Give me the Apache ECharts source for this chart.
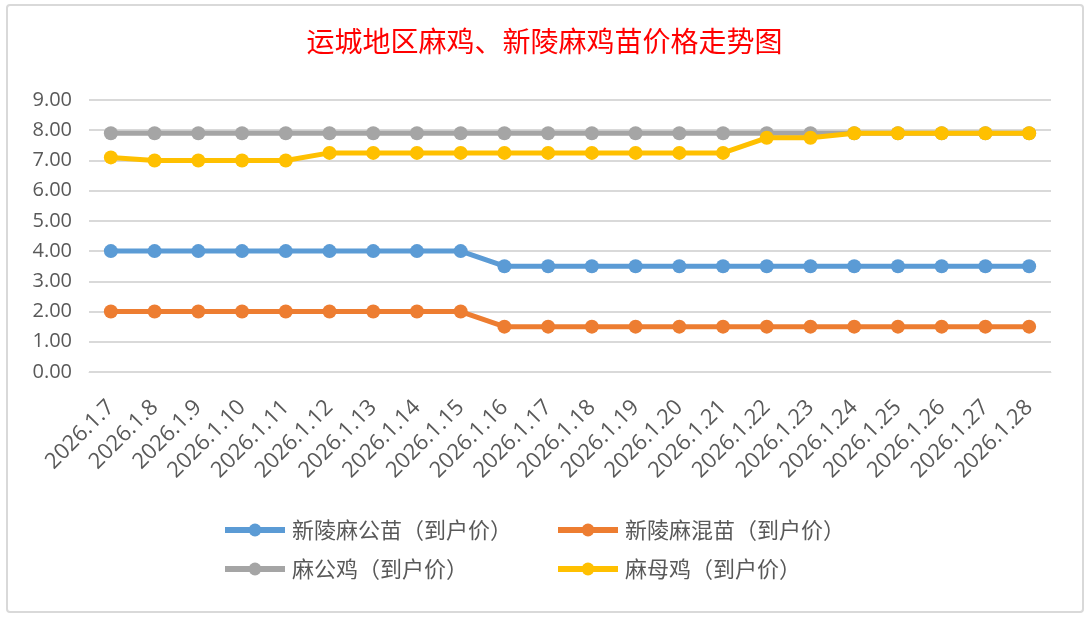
<!DOCTYPE html>
<html>
<head>
<meta charset="utf-8">
<title>运城地区麻鸡、新陵麻鸡苗价格走势图</title>
<script src="https://cdn.jsdelivr.net/npm/echarts@6/dist/echarts.min.js"></script>
<style>
  html, body { margin: 0; padding: 0; background: #fff; }
  #chart { width: 1089px; height: 617px; }
</style>
</head>
<body>
<div id="chart"></div>
<script>
// 日期
const fechas = ['2026.1.7', '2026.1.8', '2026.1.9', '2026.1.10', '2026.1.11', '2026.1.12',
  '2026.1.13', '2026.1.14', '2026.1.15', '2026.1.16', '2026.1.17', '2026.1.18', '2026.1.19',
  '2026.1.20', '2026.1.21', '2026.1.22', '2026.1.23', '2026.1.24', '2026.1.25', '2026.1.26',
  '2026.1.27', '2026.1.28'];

// 价格（元）
const gongMiao = [4.0, 4.0, 4.0, 4.0, 4.0, 4.0, 4.0, 4.0, 4.0, 3.5, 3.5, 3.5, 3.5, 3.5, 3.5, 3.5, 3.5, 3.5, 3.5, 3.5, 3.5, 3.5];
const hunMiao = [2.0, 2.0, 2.0, 2.0, 2.0, 2.0, 2.0, 2.0, 2.0, 1.5, 1.5, 1.5, 1.5, 1.5, 1.5, 1.5, 1.5, 1.5, 1.5, 1.5, 1.5, 1.5];
const gongJi = [7.9, 7.9, 7.9, 7.9, 7.9, 7.9, 7.9, 7.9, 7.9, 7.9, 7.9, 7.9, 7.9, 7.9, 7.9, 7.9, 7.9, 7.9, 7.9, 7.9, 7.9, 7.9];
const muJi = [7.1, 7.0, 7.0, 7.0, 7.0, 7.25, 7.25, 7.25, 7.25, 7.25, 7.25, 7.25, 7.25, 7.25, 7.25, 7.75, 7.75, 7.9, 7.9, 7.9, 7.9, 7.9];

const nombres = ['新陵麻公苗（到户价）', '新陵麻混苗（到户价）', '麻公鸡（到户价）', '麻母鸡（到户价）'];
const colores = ['#5B9BD5', '#ED7D31', '#A5A5A5', '#FFC000'];

const fuente = '"Noto Sans CJK SC", "Noto Sans", sans-serif';
const fuenteNum = '"Open Sans", "Noto Sans", sans-serif';

function serie(i, data) {
    return {
        name: nombres[i],
        type: 'line',
        data: data,
        symbol: 'circle',
        symbolSize: 14,
        lineStyle: { width: 5, color: colores[i] },
        itemStyle: { color: colores[i] },
        z: 2 + i
    };
}

function leyenda(items, left) {
    return {
        data: items,
        orient: 'vertical',
        left: left,
        top: 519,
        padding: 0,
        itemGap: 17,
        itemWidth: 60,
        itemHeight: 16,
        lineStyle: { width: 6 },
        textStyle: { fontSize: 22, color: '#595959', padding: [0, 0, 0, 2] }
    };
}

let myChart = echarts.init(document.getElementById('chart'));
let option = {
    animation: false,
    backgroundColor: '#fff',
    textStyle: { fontFamily: fuente },
    graphic: [
        {
            type: 'rect',
            shape: { x: 7, y: 5, width: 1076, height: 607, r: 3 },
            style: { fill: 'none', stroke: '#D9D9D9', lineWidth: 2 },
            silent: true
        }
    ],
    title: {
        text: '运城地区麻鸡、新陵麻鸡苗价格走势图',
        left: 'center',
        top: 22,
        textStyle: { color: '#FF0000', fontSize: 28, fontWeight: 'normal', fontFamily: fuente }
    },
    legend: [
        leyenda([nombres[0], nombres[2]], 222),
        leyenda([nombres[1], nombres[3]], 555)
    ],
    grid: {
        left: 89,
        right: 38,
        top: 100,
        bottom: 245
    },
    xAxis: {
        type: 'category',
        data: fechas,
        boundaryGap: true,
        axisLine: { show: true, lineStyle: { color: '#D9D9D9', width: 1 } },
        axisTick: { show: false },
        axisLabel: {
            rotate: 45,
            interval: 0,
            fontSize: 22,
            fontFamily: fuenteNum,
            color: '#595959',
            margin: 32
        }
    },
    yAxis: {
        type: 'value',
        min: 0,
        max: 9,
        interval: 1,
        axisLine: { show: false },
        axisTick: { show: false },
        splitLine: { lineStyle: { color: '#D9D9D9', width: 2 } },
        axisLabel: {
            fontSize: 20,
            fontFamily: fuenteNum,
            color: '#595959',
            margin: 17,
            formatter: value => value.toFixed(2)
        }
    },
    series: [
        serie(0, gongMiao),
        serie(1, hunMiao),
        serie(2, gongJi),
        serie(3, muJi)
    ]
};
option && myChart.setOption(option);
</script>
</body>
</html>
